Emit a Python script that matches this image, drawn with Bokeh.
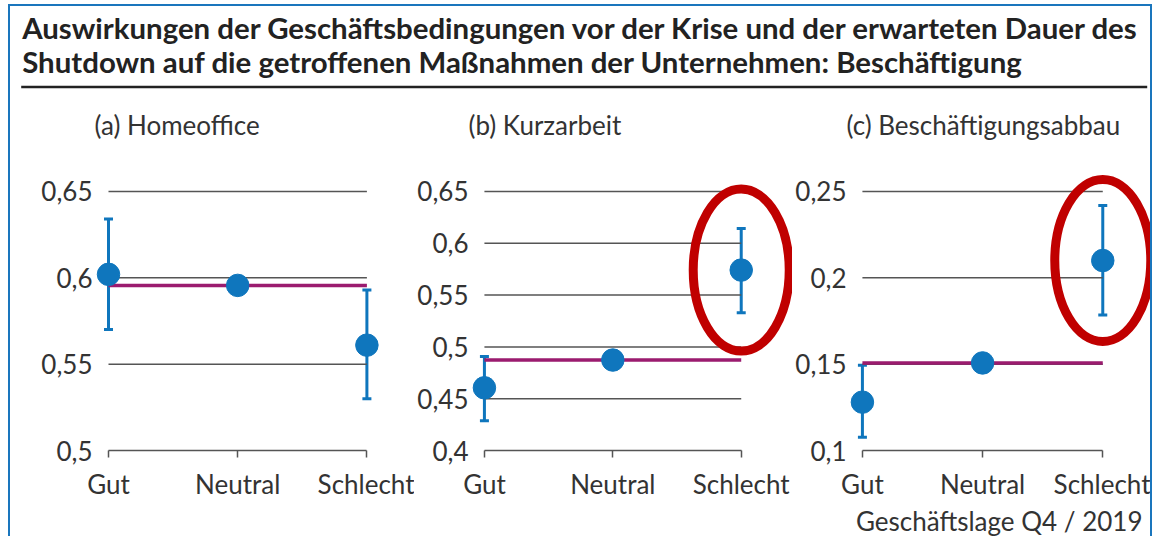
from bokeh.plotting import figure
from bokeh.models import Range1d, FixedTicker, Whisker, TeeHead, ColumnDataSource, Title
from bokeh.layouts import row, column
from bokeh.embed import file_html
from bokeh.resources import INLINE
from bokeh.core.properties import value

# ---------------- data ----------------
categories = ["Gut", "Neutral", "Schlecht"]
title_lines = [
    "Auswirkungen der Geschäftsbedingungen vor der Krise und der erwarteten Dauer des",
    "Shutdown auf die getroffenen Maßnahmen der Unternehmen: Beschäftigung",
]
panel_titles = ["(a) Homeoffice", "(b) Kurzarbeit", "(c) Beschäftigungsabbau"]
x_label = "Geschäftslage Q4 / 2019"

homeoffice = [0.602, 0.5956, 0.561]
homeoffice_lo = [0.570, None, 0.530]
homeoffice_hi = [0.634, None, 0.593]

kurzarbeit = [0.4605, 0.4873, 0.5741]
kurzarbeit_lo = [0.4287, None, 0.533]
kurzarbeit_hi = [0.4907, None, 0.6142]

abbau = [0.128, 0.1507, 0.210]
abbau_lo = [0.1076, None, 0.1785]
abbau_hi = [0.1493, None, 0.2418]

ticks_a = [0.5, 0.55, 0.6, 0.65]
ticks_b = [0.4, 0.45, 0.5, 0.55, 0.6, 0.65]
ticks_c = [0.1, 0.15, 0.2, 0.25]

highlight = [False, True, True]   # red ellipse around "Schlecht"

# ---------------- style / layout ----------------
FONT = "Lato"
FS = "26px"
TXT = "#333333"
BLUE = "#0f76bd"
PURPLE = "#9b1b6f"
RED = "#c00000"
GRID = "#555555"
FRAME_BLUE = "#1a76bd"

TOTAL_W = 1140
HEAD_H = 144          # title + panel titles
PANEL_H = 386
GRID_TOP = 41         # y of top tick inside a panel figure
GRID_BOT = 304        # y of bottom tick inside a panel figure
PAD_TOP = 4
GAP = 12              # frame edge -> first category
DY = 9                # baseline correction for text glyphs

# (figure width, left border, right border, step between categories)
PANELS = [(404, 86, 0, 129.2), (378, 56, 0, 129.2), (358, 56, 8, 121.0)]


def fmt(t):
    return f"{t:g}".replace(".", ",")


def gut_positions():
    out, left = [], 0
    for w, lb, rb, st in PANELS:
        out.append(left + lb + GAP)
        left += w
    return out


def head_figure():
    p = figure(width=TOTAL_W, height=HEAD_H, x_range=Range1d(0, TOTAL_W), y_range=Range1d(0, HEAD_H),
               toolbar_location=None, output_backend="svg", x_axis_type=None, y_axis_type=None,
               min_border=0, outline_line_color=None)
    p.xgrid.visible = False
    p.ygrid.visible = False
    p.text(x=[11.7, 11.7], y=[HEAD_H - (29.9 - DY), HEAD_H - (63.9 - DY)], text=title_lines,
           text_font=value(FONT), text_font_size="29.4px", text_font_style="bold",
           text_color="#222222", text_baseline="alphabetic", text_align="left")
    p.segment(x0=[10.7], y0=[HEAD_H - 80.4], x1=[1136.7], y1=[HEAD_H - 80.4],
              line_color="#222222", line_width=2.5)
    gx = [g - 14 for g in gut_positions()]
    p.text(x=gx, y=[HEAD_H - (127 - DY)] * len(gx), text=panel_titles,
           text_font=value(FONT), text_font_size=FS, text_color=TXT,
           text_baseline="alphabetic", text_align="left")
    return p


def panel(idx, vals, lo, hi, ticks):
    width, lb, rb, step = PANELS[idx]
    n = len(categories)
    xs = list(range(n))
    frame_w = width - lb - rb
    x0 = -GAP / step
    x1 = x0 + frame_w / step
    ppu = (GRID_BOT - GRID_TOP) / (ticks[-1] - ticks[0])
    y1 = ticks[-1] + PAD_TOP / ppu
    p = figure(width=width, height=PANEL_H, x_range=Range1d(x0, x1), y_range=Range1d(ticks[0], y1),
               toolbar_location=None, output_backend="svg",
               min_border_left=lb, min_border_right=rb,
               min_border_top=GRID_TOP - PAD_TOP, min_border_bottom=PANEL_H - GRID_BOT,
               outline_line_color=None)

    # x axis
    xa = p.xaxis[0]
    xa.ticker = FixedTicker(ticks=xs)
    xa.major_label_overrides = {i: c for i, c in enumerate(categories)}
    xa.bounds = (0, n - 1)
    xa.axis_line_color = GRID
    xa.axis_line_width = 1.5
    xa.major_tick_line_color = GRID
    xa.major_tick_line_width = 1.5
    xa.major_tick_out = 7
    xa.major_tick_in = 0
    xa.minor_tick_line_color = None
    xa.major_label_text_font = FONT
    xa.major_label_text_font_size = FS
    xa.major_label_text_color = TXT
    xa.major_label_standoff = 10

    # y axis
    ya = p.yaxis[0]
    ya.ticker = FixedTicker(ticks=ticks)
    ya.major_label_overrides = {t: fmt(t) for t in ticks}
    ya.axis_line_color = None
    ya.major_tick_line_color = None
    ya.major_tick_out = 0
    ya.major_tick_in = 0
    ya.minor_tick_line_color = None
    ya.major_label_text_font = FONT
    ya.major_label_text_font_size = FS
    ya.major_label_text_color = TXT
    ya.major_label_standoff = 4

    # horizontal grid lines, only between first and last category
    p.xgrid.visible = False
    p.ygrid.visible = False
    p.segment(x0=[0] * (len(ticks) - 1), x1=[n - 1] * (len(ticks) - 1), y0=ticks[1:], y1=ticks[1:],
              line_color=GRID, line_width=1.5)

    # reference line (neutral level)
    p.line(x=xs, y=[vals[1]] * n, line_color=PURPLE, line_width=3.5)

    # error bars
    ex = [x for x, l in zip(xs, lo) if l is not None]
    el = [l for l in lo if l is not None]
    eh = [h for h in hi if h is not None]
    src = ColumnDataSource(dict(x=ex, lower=el, upper=eh))
    p.add_layout(Whisker(source=src, base="x", lower="lower", upper="upper", line_color=BLUE, line_width=3,
                         upper_head=TeeHead(size=9, line_color=BLUE, line_width=3),
                         lower_head=TeeHead(size=9, line_color=BLUE, line_width=3)))

    p.scatter(x=xs, y=vals, size=22.5, fill_color=BLUE, line_color=BLUE, level="overlay")

    if highlight[idx]:
        p.ellipse(x=[xs[-1]], y=[vals[-1]], width=96, height=162, width_units="screen",
                  height_units="screen", fill_color=None, line_color=RED, line_width=9,
                  level="overlay")
    return p


head = head_figure()
pa = panel(0, homeoffice, homeoffice_lo, homeoffice_hi, ticks_a)
pb = panel(1, kurzarbeit, kurzarbeit_lo, kurzarbeit_hi, ticks_b)
pc = panel(2, abbau, abbau_lo, abbau_hi, ticks_c)

pc.add_layout(Title(text=x_label, align="right", text_font=FONT, text_font_size=FS,
                    text_font_style="normal", text_color=TXT, standoff=0, offset=0), "below")

inner = column(head, row(pa, pb, pc, spacing=0), spacing=0,
               styles={"border-top": f"2px solid {FRAME_BLUE}",
                       "border-left": f"2px solid {FRAME_BLUE}",
                       "border-right": f"2px solid {FRAME_BLUE}"})
layout = column(inner, styles={"padding-left": "8px", "padding-top": "4px"})

open("out.html", "w").write(file_html(layout, INLINE))
